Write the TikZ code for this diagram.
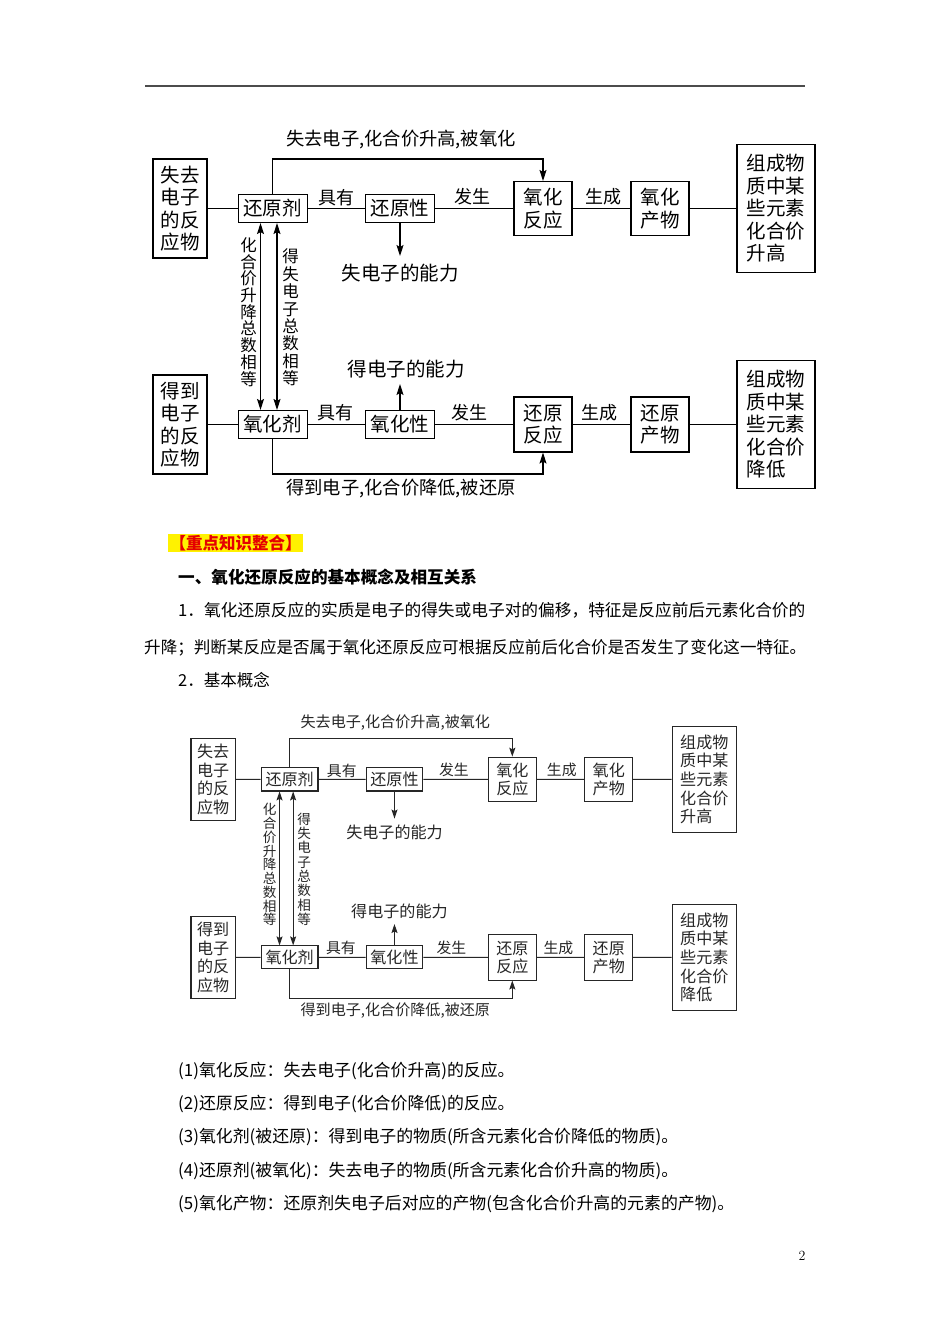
\documentclass[tikz,border=0pt]{standalone}
\usepackage{fontspec}
\newfontfamily\cjk{Noto Sans CJK SC}
\usetikzlibrary{arrows.meta}
\newcommand\myfs[2]{\fontsize{#1}{#2}\selectfont}
\tikzset{
  box/.style={draw, line width=1.1pt, inner sep=0pt, align=center, font=\cjk\myfs{19.5}{22.5}},
  lab/.style={inner sep=0pt, font=\cjk\myfs{18}{20}},
  biglab/.style={inner sep=0pt, font=\cjk\myfs{19.5}{22}},
  routelab/.style={inner sep=0pt, font=\cjk\myfs{18.3}{22}},
  vlab/.style={inner sep=0pt, align=center},
  conn/.style={line width=1.1pt},
  tipsty/.tip={Stealth[length=11pt,width=7pt,inset=2pt]},
  arr/.style={line width=1.1pt, -tipsty},
  darr/.style={line width=1.1pt, tipsty-tipsty},
  txt/.style={inner sep=0pt, anchor=west},
}
\newcommand\oxdiagram[1]{%
  % top row
  \node[box, minimum width=54, minimum height=99] (#1L1) at (180,208.5) {失去\\电子\\的反\\应物};
  \node[box, minimum width=69, minimum height=28] (#1hy) at (272.7,208.5) {还原剂};
  \node[box, minimum width=69, minimum height=28] (#1hx) at (400,208.5) {还原性};
  \node[box, minimum width=58, minimum height=54] (#1fy) at (543,208.5) {氧化\\反应};
  \node[box, minimum width=58, minimum height=54] (#1cw) at (660,208.5) {氧化\\产物};
  \node[box, align=left, minimum width=78, minimum height=128] (#1R1) at (776,208.5) {组成物\\质中某\\些元素\\化合价\\升高};
  \draw[conn] (#1L1) -- (#1hy);
  \draw[conn] (#1hy) -- (#1hx);
  \draw[conn] (#1hx) -- (#1fy);
  \draw[conn] (#1fy) -- (#1cw);
  \draw[conn] (#1cw) -- (#1R1);
  \node[lab] (#1t1) at (336,198) {具有};
  \node[lab] (#1t2) at (472,197) {发生};
  \node[lab] (#1t3) at (603,197) {生成};
  \coordinate (#1tr) at (400,159);
  \draw[arr] (#1hy.north) |- (#1tr) -| (#1fy.north);
  \node[routelab] (#1tl) at (401,140) {失去电子,化合价升高,被氧化};
  \coordinate (#1ha) at (400,256);
  \draw[arr] (#1hx.south) -- (#1ha);
  \node[biglab] (#1ht) at (400,273) {失电子的能力};
  % bottom row
  \node[box, minimum width=54, minimum height=99] (#1L2) at (180,424.5) {得到\\电子\\的反\\应物};
  \node[box, minimum width=69, minimum height=28] (#1yh) at (272.7,424.5) {氧化剂};
  \node[box, minimum width=69, minimum height=28] (#1ox) at (400,424.5) {氧化性};
  \node[box, minimum width=58, minimum height=55] (#1hf) at (543,424.5) {还原\\反应};
  \node[box, minimum width=58, minimum height=55] (#1hc) at (660,424.5) {还原\\产物};
  \node[box, align=left, minimum width=78, minimum height=128] (#1R2) at (776,424.5) {组成物\\质中某\\些元素\\化合价\\降低};
  \draw[conn] (#1L2) -- (#1yh);
  \draw[conn] (#1yh) -- (#1ox);
  \draw[conn] (#1ox) -- (#1hf);
  \draw[conn] (#1hf) -- (#1hc);
  \draw[conn] (#1hc) -- (#1R2);
  \node[lab] (#1b1) at (335,413) {具有};
  \node[lab] (#1b2) at (469,413) {发生};
  \node[lab] (#1b3) at (599,413) {生成};
  \coordinate (#1br) at (400,474);
  \draw[arr] (#1yh.south) |- (#1br) -| (#1hf.south);
  \node[routelab] (#1bl) at (401,489) {得到电子,化合价降低,被还原};
  \coordinate (#1oa) at (400,384);
  \draw[arr] (#1ox.north) -- (#1oa);
  \node[biglab] (#1ot) at (406,369) {得电子的能力};
  % vertical links
  \coordinate (#1va) at (260.5,300);
  \coordinate (#1vb) at (277,300);
  \draw[darr] (#1hy.south -| #1va) -- (#1yh.north -| #1va);
  \draw[darr] (#1hy.south -| #1vb) -- (#1yh.north -| #1vb);
  \node[vlab, font=\cjk\myfs{16.5}{16.7}] (#1v1) at (248.5,312) {化\\合\\价\\升\\降\\总\\数\\相\\等};
  \node[vlab, font=\cjk\myfs{16.5}{17.4}] (#1v2) at (290.5,317.5) {得\\失\\电\\子\\总\\数\\相\\等};
}
\begin{document}
\begin{tikzpicture}[x=1pt,y=-1pt]
\useasboundingbox (0,0) rectangle (950,1344);
\fill[white] (0,0) rectangle (950,1344);
\draw[line width=1.5pt, black!70] (145,86) -- (805,86);

\begin{scope}
\oxdiagram{a}
\end{scope}

\begin{scope}[shift={(64.9,607.6)}, scale=0.824, transform shape, black!85,
  tipsty/.tip={Stealth[length=9pt,width=6pt,inset=1.6pt]}]
\oxdiagram{b}
\end{scope}

\node[txt, fill=yellow, text=red!90!black, inner xsep=1.5pt, minimum height=18, font=\cjk\bfseries\myfs{16.5}{18}] (hl) at (168,543) {【重点知识整合】};
\node[txt, font=\cjk\bfseries\myfs{16.6}{19}] (h1) at (178,577) {一、氧化还原反应的基本概念及相互关系};
\node[txt, font=\cjk\myfs{16.7}{19}] (p1) at (178,610) {1．氧化还原反应的实质是电子的得失或电子对的偏移，特征是反应前后元素化合价的};
\node[txt, font=\cjk\myfs{16.55}{19}] (p2) at (144,648) {升降；判断某反应是否属于氧化还原反应可根据反应前后化合价是否发生了变化这一特征。};
\node[txt, font=\cjk\myfs{16.5}{19}] (p3) at (178,680) {2．基本概念};

\node[txt, font=\cjk\myfs{16.9}{19}] (i1) at (178,1071) {(1)氧化反应：失去电子(化合价升高)的反应。};
\node[txt, font=\cjk\myfs{16.9}{19}] (i2) at (178,1104) {(2)还原反应：得到电子(化合价降低)的反应。};
\node[txt, font=\cjk\myfs{16.9}{19}] (i3) at (178,1137) {(3)氧化剂(被还原)：得到电子的物质(所含元素化合价降低的物质)。};
\node[txt, font=\cjk\myfs{16.9}{19}] (i4) at (178,1171) {(4)还原剂(被氧化)：失去电子的物质(所含元素化合价升高的物质)。};
\node[txt, font=\cjk\myfs{16.9}{19}] (i5) at (178,1204) {(5)氧化产物：还原剂失电子后对应的产物(包含化合价升高的元素的产物)。};

\node[inner sep=0pt, font=\myfs{14}{16}] (pg) at (802,1256) {2};
\end{tikzpicture}
\end{document}
